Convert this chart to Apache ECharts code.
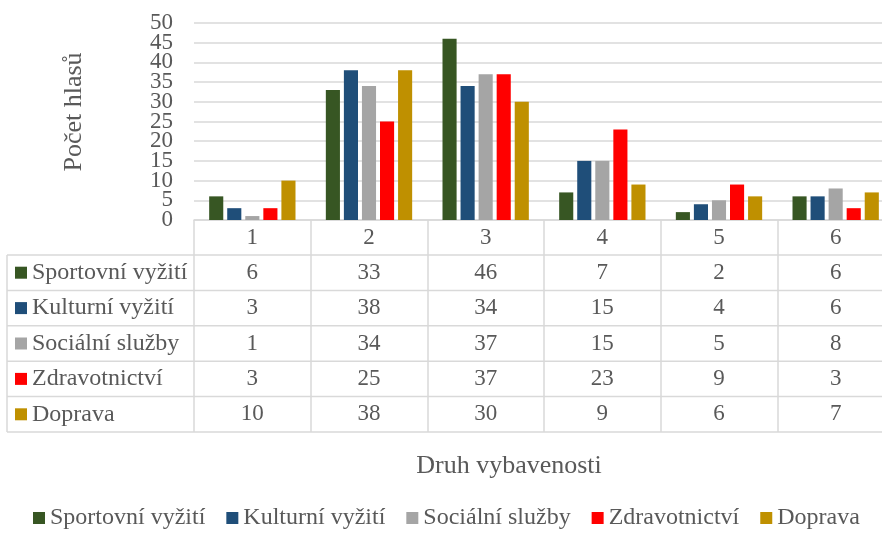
<!DOCTYPE html>
<html>
<head>
<meta charset="utf-8">
<script src="https://cdn.jsdelivr.net/npm/echarts@6/dist/echarts.min.js"></script>
<style>
  html, body { margin: 0; padding: 0; background: #fff; }
  #main { width: 882px; height: 533px; }
</style>
</head>
<body>
<div id="main"></div>
<script>
const categories = ['1', '2', '3', '4', '5', '6'];
const seriesNames = ['Sportovní vyžití', 'Kulturní vyžití', 'Sociální služby', 'Zdravotnictví', 'Doprava'];
const sportovni = [6, 33, 46, 7, 2, 6];
const kulturni = [3, 38, 34, 15, 4, 6];
const socialni = [1, 34, 37, 15, 5, 8];
const zdravotnictvi = [3, 25, 37, 23, 9, 3];
const doprava = [10, 38, 30, 9, 6, 7];
const seriesValues = [sportovni, kulturni, socialni, zdravotnictvi, doprava];
const colors = ['#375623', '#1f4e79', '#a5a5a5', '#ff0000', '#bf9000'];
const yMin = 0, yMax = 50, yStep = 5;

const font = "'Liberation Serif', 'Times New Roman', serif";
const textColor = '#595959';
const lineColor = '#d9d9d9';

// layout (plot runs past the right edge, like the cropped original)
const gridLeft = 194, gridWidth = 700, gridTop = 23, axisY = 220;
const gridRight = gridLeft + gridWidth;
const gridHeight = axisY - gridTop;
const stepPx = gridHeight / ((yMax - yMin) / yStep);
const tableLeft = 7, headerBottom = 255, rowH = 35.4;

// tick labels are packed tighter than their font, so even and odd ones
// go on two label-only axes (ECharts would otherwise drop the overlapping ones)
const labelAxis = {
    fontFamily: font, fontSize: 23, color: textColor, margin: 21,
    showMinLabel: true, showMaxLabel: true
};

const chart = echarts.init(document.getElementById('main'));

const option = {
    animation: false,
    color: colors,
    grid: [
        { left: gridLeft, width: gridWidth, top: gridTop, height: gridHeight, outerBoundsMode: 'none' },
        { left: gridLeft, width: gridWidth, top: gridTop - stepPx, height: gridHeight + 2 * stepPx, outerBoundsMode: 'none' }
    ],
    legend: {
        left: 33,
        top: 506,
        padding: 0,
        icon: 'rect',
        itemWidth: 12,
        itemHeight: 12,
        itemGap: 21,
        textStyle: { fontFamily: font, fontSize: 24, color: textColor },
        data: seriesNames
    },
    xAxis: [{
        type: 'category',
        gridIndex: 0,
        data: categories,
        axisLine: { lineStyle: { color: lineColor, width: 1.5 } },
        axisTick: { show: true, length: 432 - axisY, lineStyle: { color: lineColor, width: 1.5 } },
        axisLabel: { fontFamily: font, fontSize: 23, color: textColor, margin: 6 }
    }, {
        type: 'category',
        gridIndex: 1,
        data: categories,
        show: false
    }],
    yAxis: [{
        type: 'value',
        gridIndex: 0,
        position: 'left',
        min: yMin,
        max: yMax,
        interval: yStep,
        axisLine: { show: false },
        axisTick: { show: false },
        axisLabel: { show: false },
        splitLine: { lineStyle: { color: lineColor, width: 1.5 } }
    }, {
        type: 'value',
        gridIndex: 0,
        position: 'left',
        min: yMin,
        max: yMax,
        interval: yStep * 2,
        axisLine: { show: false },
        axisTick: { show: false },
        splitLine: { show: false },
        axisLabel: labelAxis
    }, {
        type: 'value',
        gridIndex: 1,
        position: 'left',
        min: yMin - yStep,
        max: yMax + yStep,
        interval: yStep * 2,
        axisLine: { show: false },
        axisTick: { show: false },
        splitLine: { show: false },
        axisLabel: Object.assign({}, labelAxis, {
            formatter: v => (v < yMin || v > yMax) ? '' : String(v)
        })
    }],
    series: seriesNames.map((name, i) => ({
        name: name,
        type: 'bar',
        xAxisIndex: 0,
        yAxisIndex: 0,
        data: seriesValues[i],
        barCategoryGap: '26%',
        barGap: '28%'
    }))
};
chart.setOption(option);

// data table under the plot, plus axis titles
const graphics = [];
const tableBottom = headerBottom + rowH * seriesNames.length;
for (let i = 0; i <= seriesNames.length; i++) {
    const y = headerBottom + rowH * i;
    graphics.push({
        type: 'line', silent: true,
        shape: { x1: tableLeft, y1: y, x2: gridRight, y2: y },
        style: { stroke: lineColor, lineWidth: 1.5 }
    });
}
graphics.push({
    type: 'line', silent: true,
    shape: { x1: tableLeft, y1: headerBottom, x2: tableLeft, y2: tableBottom },
    style: { stroke: lineColor, lineWidth: 1.5 }
});
seriesNames.forEach((name, r) => {
    const cy = headerBottom + rowH * (r + 0.5);
    graphics.push({
        type: 'rect', silent: true,
        shape: { x: 15, y: cy - 6, width: 12, height: 12 },
        style: { fill: colors[r] }
    });
    graphics.push({
        type: 'text', silent: true, x: 32, y: cy,
        style: { text: name, font: '24px ' + font, fill: textColor, align: 'left', verticalAlign: 'middle' }
    });
    categories.forEach((cat, c) => {
        const cx = chart.convertToPixel({ xAxisIndex: 0 }, cat);
        graphics.push({
            type: 'text', silent: true, x: cx, y: cy,
            style: { text: String(seriesValues[r][c]), font: '23px ' + font, fill: textColor, align: 'center', verticalAlign: 'middle' }
        });
    });
});
graphics.push({
    type: 'text', silent: true, x: 509, y: 466,
    style: { text: 'Druh vybavenosti', font: '26px ' + font, fill: textColor, align: 'center', verticalAlign: 'middle' }
});
graphics.push({
    type: 'text', silent: true, x: 74, y: 112, rotation: Math.PI / 2,
    style: { text: 'Počet hlasů', font: '26px ' + font, fill: textColor, align: 'center', verticalAlign: 'middle' }
});
chart.setOption({ graphic: graphics });
</script>
</body>
</html>
